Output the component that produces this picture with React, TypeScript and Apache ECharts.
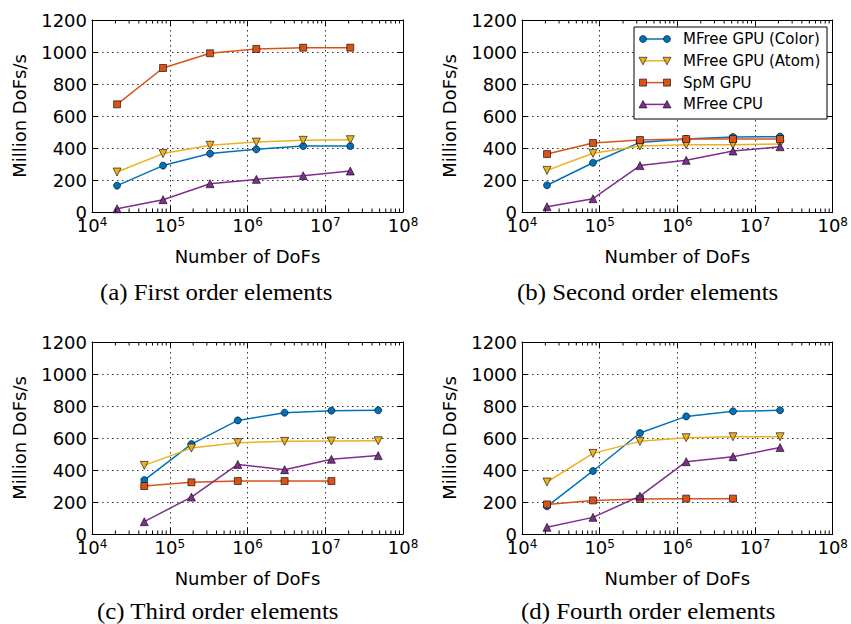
import React, { useEffect, useRef } from "react";
import * as echarts from "echarts";

// ---------- data ----------
const seriesNames = ["MFree GPU (Color)", "MFree GPU (Atom)", "SpM GPU", "MFree CPU"];
const seriesColors = ["#0072BD", "#EDB120", "#D95319", "#7E2F8E"];

const captions = [
  "(a) First order elements",
  "(b) Second order elements",
  "(c) Third order elements",
  "(d) Fourth order elements",
];

// Number of DoFs per panel
const dofsAB = [2.1e4, 8.2e4, 3.3e5, 1.3e6, 5.2e6, 2.1e7];
const dofsC = [4.7e4, 1.9e5, 7.5e5, 3.0e6, 1.2e7, 4.8e7];
const dofsD = [2.1e4, 8.2e4, 3.3e5, 1.3e6, 5.2e6, 2.1e7];

// (a) First order
const aColor = [165, 290, 365, 392, 412, 412];
const aAtom = [250, 365, 417, 437, 448, 452];
const aSpM = [673, 900, 992, 1019, 1027, 1027];
const aCPU = [20, 77, 177, 204, 227, 256];

// (b) Second order
const bColor = [167, 308, 435, 456, 469, 471];
const bAtom = [260, 367, 412, 421, 421, 425];
const bSpM = [362, 431, 450, 456, 456, 456];
const bCPU = [33, 83, 290, 323, 381, 408];

// (c) Third order
const cColor = [337, 562, 710, 758, 771, 773];
const cAtom = [429, 537, 571, 579, 581, 583];
const cSpM = [300, 323, 331, 331, 331];
const cCPU = [77, 231, 435, 402, 467, 490];

// (d) Fourth order
const dColor = [173, 394, 631, 735, 767, 773];
const dAtom = [325, 504, 579, 602, 608, 608];
const dSpM = [185, 210, 219, 221, 221];
const dCPU = [42, 104, 237, 452, 483, 540];

// axis ticks
const yMin = 0;
const yMax = 1200;
const yStep = 200;
const xMin = 1e4;
const xMax = 1e8;
const minorDecades = [1e4, 1e5, 1e6, 1e7];
const minorMultipliers = [2, 3, 4, 5, 6, 7, 8, 9];

const panels = [
  { x: dofsAB, ys: [aColor, aAtom, aSpM, aCPU] },
  { x: dofsAB, ys: [bColor, bAtom, bSpM, bCPU] },
  { x: dofsC, ys: [cColor, cAtom, cSpM, cCPU] },
  { x: dofsD, ys: [dColor, dAtom, dSpM, dCPU] },
];

// ---------- layout ----------
const FONT = "DejaVu Sans";
const SERIF = "Liberation Serif";
const gridLefts = [92, 522, 92, 522];
const gridTops = [20, 20, 342, 342];
const gridW = 311;
const gridH = 192;
const captionLeft = [100, 517, 97, 521];
const captionBaseline = [300, 300, 619, 619];

const symbols = ["circle", "triangle", "rect", "triangle"];
const symbolRot = [0, 180, 0, 0];
const symbolSizes = [7, 8, 7, 8];

function buildOption() {
  const grid: any[] = [];
  const xAxis: any[] = [];
  const yAxis: any[] = [];
  const series: any[] = [];
  const minorData: number[][] = [];
  minorDecades.forEach((d) => minorMultipliers.forEach((m) => minorData.push([d * m, 0])));

  const dotted = { show: true, lineStyle: { color: "#000", width: 0.8, type: [1.5, 3.5] } };

  panels.forEach((p, pi) => {
    grid.push({ left: gridLefts[pi], top: gridTops[pi], width: gridW, height: gridH, containLabel: false });
    const commonX = {
      type: "log",
      logBase: 10,
      min: xMin,
      max: xMax,
      gridIndex: pi,
      axisLine: { show: true, onZero: false, lineStyle: { color: "#000", width: 1 } },
      axisTick: { show: true, inside: true, length: 6, lineStyle: { color: "#000", width: 1 } },
    };
    xAxis.push({
      ...commonX,
      position: "bottom",
      splitLine: dotted,
      name: "Number of DoFs",
      nameLocation: "middle",
      nameGap: 35,
      nameTextStyle: { fontFamily: FONT, fontSize: 18, color: "#000" },
      axisLabel: {
        show: true,
        margin: 4,
        showMinLabel: true,
        showMaxLabel: true,
        formatter: (v: number) => `{b|10}{s|${Math.round(Math.log10(v))}}`,
        rich: {
          b: { fontFamily: FONT, fontSize: 18, lineHeight: 18, color: "#000", verticalAlign: "bottom" },
          s: { fontFamily: FONT, fontSize: 12, lineHeight: 9, color: "#000", verticalAlign: "top", padding: [0, 0, 10, 0] },
        },
      },
    });
    xAxis.push({ ...commonX, position: "top", splitLine: { show: false }, axisLabel: { show: false } });
    const commonY = {
      type: "value",
      min: yMin,
      max: yMax,
      interval: yStep,
      gridIndex: pi,
      axisLine: { show: true, onZero: false, lineStyle: { color: "#000", width: 1 } },
      axisTick: { show: true, inside: true, length: 6, lineStyle: { color: "#000", width: 1 } },
    };
    yAxis.push({
      ...commonY,
      position: "left",
      splitLine: dotted,
      name: "Million DoFs/s",
      nameLocation: "middle",
      nameRotate: 90,
      nameGap: 64,
      nameTextStyle: { fontFamily: FONT, fontSize: 18, color: "#000" },
      axisLabel: {
        show: true,
        margin: 5,
        fontFamily: FONT,
        fontSize: 18,
        lineHeight: 8,
        color: "#000",
        formatter: (v: number) => String(v),
      },
    });
    yAxis.push({ ...commonY, position: "right", splitLine: { show: false }, axisLabel: { show: false } });

    p.ys.forEach((ys, si) => {
      series.push({
        type: "line",
        name: seriesNames[si],
        xAxisIndex: pi * 2,
        yAxisIndex: pi * 2,
        data: ys.map((v, i) => [p.x[i], v]),
        symbol: symbols[si],
        symbolSize: symbolSizes[si],
        symbolRotate: symbolRot[si],
        showSymbol: true,
        lineStyle: { color: seriesColors[si], width: 1.5 },
        itemStyle: { color: seriesColors[si], borderColor: "#000", borderWidth: 0.6 },
        z: 3 + si,
        silent: true,
      });
    });

    series.push({
      type: "custom",
      xAxisIndex: pi * 2,
      yAxisIndex: pi * 2,
      silent: true,
      clip: false,
      z: 10,
      data: minorData,
      renderItem: (params: any, api: any) => {
        const v = api.value(0);
        const pb = api.coord([v, yMin]);
        const pt = api.coord([v, yMax]);
        return {
          type: "group",
          children: [
            { type: "line", shape: { x1: pb[0], y1: pb[1], x2: pb[0], y2: pb[1] - 3.5 }, style: { stroke: "#000", lineWidth: 1 } },
            { type: "line", shape: { x1: pt[0], y1: pt[1], x2: pt[0], y2: pt[1] + 3.5 }, style: { stroke: "#000", lineWidth: 1 } },
          ],
        };
      },
    });
  });

  // captions
  const graphic: any[] = captions.map((c, i) => ({
    type: "text",
    x: captionLeft[i],
    y: captionBaseline[i] - 17.8,
    scaleX: 1.08,
    z: 100,
    style: { text: c, fontFamily: SERIF, fontSize: 23, lineHeight: 20, fill: "#000", verticalAlign: "top" },
  }));

  // legend (panel b)
  const lgX = 634, lgY = 27, lgW = 193, lgH = 92;
  graphic.push({
    type: "rect",
    z: 100,
    shape: { x: lgX, y: lgY, width: lgW, height: lgH },
    style: { fill: "#fff", stroke: "#000", lineWidth: 1 },
  });
  seriesNames.forEach((n, i) => {
    const y = 39 + i * 21.8;
    const x1 = 643, x2 = 667;
    graphic.push({ type: "line", z: 101, shape: { x1, y1: y, x2, y2: y }, style: { stroke: seriesColors[i], lineWidth: 1.5 } });
    [x1, x2].forEach((x) => {
      const st = { fill: seriesColors[i], stroke: "#000", lineWidth: 0.6 };
      if (i === 0) graphic.push({ type: "circle", z: 102, shape: { cx: x, cy: y, r: 3.5 }, style: st });
      else if (i === 1) graphic.push({ type: "polygon", z: 102, shape: { points: [[x - 4, y - 3.5], [x + 4, y - 3.5], [x, y + 4]] }, style: st });
      else if (i === 2) graphic.push({ type: "rect", z: 102, shape: { x: x - 3.5, y: y - 3.5, width: 7, height: 7 }, style: st });
      else graphic.push({ type: "polygon", z: 102, shape: { points: [[x - 4, y + 3.5], [x + 4, y + 3.5], [x, y - 4]] }, style: st });
    });
    graphic.push({
      type: "text",
      z: 102,
      x: 683,
      y: y - 8,
      style: { text: n, fontFamily: FONT, fontSize: 15, lineHeight: 16, fill: "#000", verticalAlign: "top" },
    });
  });

  return {
    animation: false,
    backgroundColor: "#fff",
    grid,
    xAxis,
    yAxis,
    series,
    graphic,
  };
}

export default function App() {
  const ref = useRef<HTMLDivElement>(null);
  useEffect(() => {
    if (!ref.current) return;
    const chart = echarts.init(ref.current, undefined, { renderer: "svg" });
    chart.setOption(buildOption() as any);
    return () => chart.dispose();
  }, []);
  return <div ref={ref} style={{ position: "absolute", left: 0, top: 0, width: 851, height: 624, background: "#fff" }} />;
}
